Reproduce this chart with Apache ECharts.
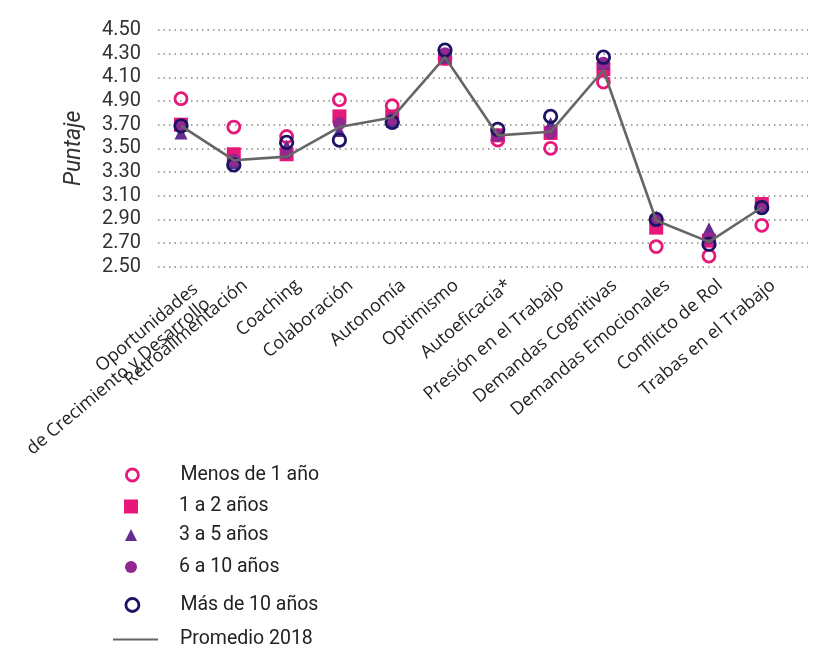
<!DOCTYPE html>
<html>
<head>
<meta charset="utf-8">
<script src="https://cdn.jsdelivr.net/npm/echarts@6/dist/echarts.min.js"></script>
<style>
  html, body { margin: 0; padding: 0; background: #ffffff; }
  #chart { width: 814px; height: 652px; }
</style>
</head>
<body>
<div id="chart"></div>
<script>
// Dimensiones evaluadas
const categories = [
  'Oportunidades\nde Crecimiento y Desarrollo',
  'Retroalimentación',
  'Coaching',
  'Colaboración',
  'Autonomía',
  'Optimismo',
  'Autoeficacia*',
  'Presión en el Trabajo',
  'Demandas Cognitivas',
  'Demandas Emocionales',
  'Conflicto de Rol',
  'Trabas en el Trabajo'
];

// Etiquetas del eje de puntaje (de 2.50 a 4.50)
const yTickLabels = ['2.50', '2.70', '2.90', '3.10', '3.30', '3.50', '3.70', '4.90', '4.10', '4.30', '4.50'];

// Puntajes por antigüedad
const menosDe1Anio  = [3.92, 3.68, 3.60, 3.91, 3.86, 4.26, 3.57, 3.50, 4.06, 2.67, 2.59, 2.85];
const de1a2Anios    = [3.70, 3.45, 3.45, 3.77, 3.77, 4.26, 3.61, 3.63, 4.17, 2.83, 2.72, 3.03];
const de3a5Anios    = [3.63, 3.38, 3.52, 3.65, 3.73, 4.27, 3.62, 3.71, 4.22, 2.92, 2.82, 3.02];
const de6a10Anios   = [3.69, 3.40, 3.46, 3.71, 3.75, 4.30, 3.61, 3.63, 4.22, 2.89, 2.74, 3.01];
const masDe10Anios  = [3.69, 3.36, 3.55, 3.57, 3.72, 4.33, 3.66, 3.77, 4.27, 2.90, 2.69, 3.00];
const promedio2018  = [3.69, 3.40, 3.43, 3.68, 3.76, 4.27, 3.61, 3.64, 4.16, 2.89, 2.71, 3.00];

const PINK = '#e6197a';
const TRIANGLE_PURPLE = '#662d91';
const CIRCLE_PURPLE = '#92278f';
const NAVY = '#1b1464';
const GREY = '#666666';

const Y_MIN = 2.5, Y_MAX = 4.5, Y_STEP = 0.2;
const PLOT_TOP = 30, PLOT_BOTTOM = 652 - 266.7;

const chart = echarts.init(document.getElementById('chart'), null, { renderer: 'canvas' });

// One legend block per row so every row sits at its own height
function legendRow(name, centerY, opts) {
  const left = opts.left;
  const textX = left + opts.w + 5;
  return {
    data: [name],
    orient: 'vertical',
    left: left,
    top: centerY - 11,
    padding: 0,
    itemWidth: opts.w,
    itemHeight: opts.h,
    selectedMode: false,
    itemStyle: opts.itemStyle,
    textStyle: {
      fontFamily: 'Roboto',
      fontSize: 19.5,
      lineHeight: 22,
      color: '#222222',
      padding: [0, 0, 0, 179 - textX]
    }
  };
}

const markerX = 131;
const legends = [
  legendRow('Menos de 1 año', 475, { left: markerX - 6, w: 12, h: 12,
    itemStyle: { color: 'rgba(0,0,0,0)', borderColor: PINK, borderWidth: 2.8, opacity: 1 } }),
  legendRow('1 a 2 años', 506.5, { left: markerX - 7, w: 14, h: 14,
    itemStyle: { color: PINK, borderWidth: 0, opacity: 1 } }),
  legendRow('3 a 5 años', 535, { left: markerX - 6, w: 12, h: 12,
    itemStyle: { color: TRIANGLE_PURPLE, borderWidth: 0, opacity: 1 } }),
  legendRow('6 a 10 años', 567, { left: markerX - 6, w: 12, h: 12,
    itemStyle: { color: CIRCLE_PURPLE, borderWidth: 0, opacity: 1 } }),
  legendRow('Más de 10 años', 605, { left: markerX - 6.5, w: 13, h: 13,
    itemStyle: { color: 'rgba(0,0,0,0)', borderColor: NAVY, borderWidth: 2.8, opacity: 1 } }),
  legendRow('Promedio 2018', 639.5, { left: 112, w: 45, h: 14,
    itemStyle: { color: 'rgba(0,0,0,0)', borderWidth: 0, opacity: 0 } })
];

function scatter(name, data, symbol, size, style) {
  return {
    name: name,
    type: 'scatter',
    xAxisIndex: 1,
    yAxisIndex: 1,
    data: data,
    symbol: symbol,
    symbolSize: size,
    itemStyle: Object.assign({ opacity: 1 }, style),
    emphasis: { disabled: true }
  };
}

const labelFont = { fontFamily: 'Open Sans', fontSize: 18, lineHeight: 19, color: '#222222' };

// Category axis shared settings; the two-line first name sits on its own axis copy
function categoryAxis(showFirst, padding) {
  return {
    gridIndex: 1,
    type: 'category',
    position: 'bottom',
    offset: 0,
    data: categories,
    boundaryGap: true,
    axisLine: { show: false },
    axisTick: { show: false },
    splitLine: { show: false },
    axisLabel: Object.assign({
      interval: 0,
      rotate: 40,
      margin: 3,
      verticalAlign: 'top',
      padding: padding,
      formatter: (v, i) => ((i === 0) === showFirst ? v : '')
    }, labelFont)
  };
}

const option = {
  backgroundColor: '#ffffff',
  animation: false,
  legend: legends,
  grid: [
    { left: 158, right: 6, top: PLOT_TOP, bottom: PLOT_BOTTOM,
      containLabel: false, outerBoundsMode: 'none' },
    { left: 154.6, right: 814 - 788.2, top: PLOT_TOP, bottom: PLOT_BOTTOM,
      containLabel: false, outerBoundsMode: 'none' }
  ],
  xAxis: [
    { gridIndex: 0, type: 'value', show: false, min: 0, max: 1 },
    categoryAxis(false, [8, 0, 0, 0]),
    categoryAxis(true, [13, 0, 0, 0])
  ],
  yAxis: [
    {
      gridIndex: 0,
      type: 'value',
      min: Y_MIN,
      max: Y_MAX,
      interval: Y_STEP,
      name: 'Puntaje',
      nameLocation: 'middle',
      nameRotate: 90,
      nameGap: 72,
      nameTextStyle: {
        fontFamily: 'Roboto',
        fontStyle: 'italic',
        fontSize: 23,
        color: '#333333'
      },
      axisLine: { show: false },
      axisTick: { show: false },
      axisLabel: {
        margin: 17,
        fontFamily: 'Roboto',
        fontSize: 20,
        color: '#333333',
        padding: [0, 0, 8, 0],
        formatter: v => yTickLabels[Math.round((v - Y_MIN) / Y_STEP)] || ''
      },
      splitLine: {
        show: true,
        lineStyle: { color: '#888888', width: 1.5, type: [1.5, 4], cap: 'butt' }
      }
    },
    {
      gridIndex: 1,
      type: 'value',
      min: Y_MIN,
      max: Y_MAX,
      interval: Y_STEP,
      show: false,
      splitLine: { show: false }
    }
  ],
  series: [
    {
      name: 'Promedio 2018',
      type: 'line',
      xAxisIndex: 1,
      yAxisIndex: 1,
      data: promedio2018,
      symbol: 'none',
      lineStyle: { color: GREY, width: 2.6 },
      itemStyle: { color: GREY },
      emphasis: { disabled: true }
    },
    scatter('Menos de 1 año', menosDe1Anio, 'circle', 12,
      { color: 'rgba(0,0,0,0)', borderColor: PINK, borderWidth: 2.8 }),
    scatter('1 a 2 años', de1a2Anios, 'rect', 14, { color: PINK }),
    scatter('3 a 5 años', de3a5Anios, 'triangle', 13, { color: TRIANGLE_PURPLE }),
    scatter('6 a 10 años', de6a10Anios, 'circle', 13, { color: CIRCLE_PURPLE }),
    scatter('Más de 10 años', masDe10Anios, 'circle', 12.5,
      { color: 'rgba(0,0,0,0)', borderColor: NAVY, borderWidth: 2.8 })
  ]
};

chart.setOption(option);
</script>
</body>
</html>
